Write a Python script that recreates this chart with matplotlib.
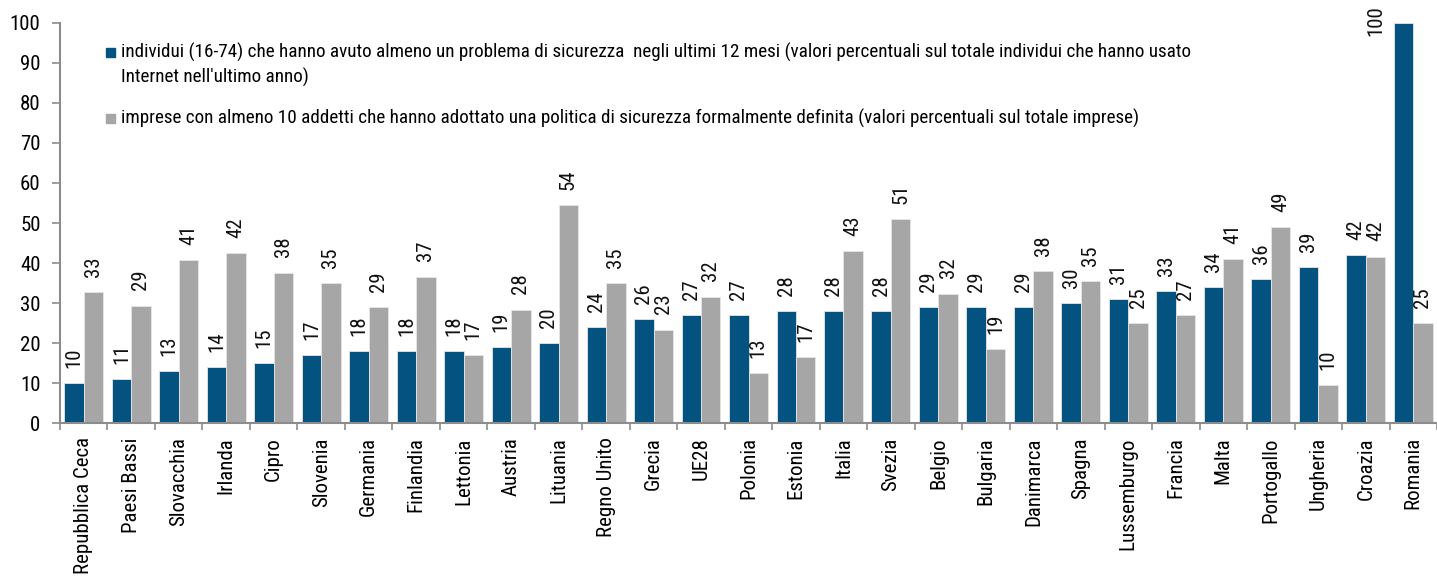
import numpy as np
import matplotlib
matplotlib.use('Agg')
import matplotlib.pyplot as plt
from matplotlib.patches import Rectangle

plt.rcParams['font.family'] = ['Roboto Condensed', 'Liberation Sans', 'DejaVu Sans']

paesi = ['Repubblica Ceca', 'Paesi Bassi', 'Slovacchia', 'Irlanda', 'Cipro', 'Slovenia',
         'Germania', 'Finlandia', 'Lettonia', 'Austria', 'Lituania', 'Regno Unito', 'Grecia',
         'UE28', 'Polonia', 'Estonia', 'Italia', 'Svezia', 'Belgio', 'Bulgaria', 'Danimarca',
         'Spagna', 'Lussemburgo', 'Francia', 'Malta', 'Portogallo', 'Ungheria', 'Croazia',
         'Romania']
individui = [10, 11, 13, 14, 15, 17, 18, 18, 18, 19, 20, 24, 26, 27, 27, 28, 28, 28, 29, 29,
             29, 30, 31, 33, 34, 36, 39, 42, 100]
imprese = [32.8, 29.4, 40.8, 42.4, 37.6, 35.0, 29.0, 36.6, 17.0, 28.4, 54.4, 35.0, 23.4, 31.6,
           12.6, 16.6, 43.0, 50.9, 32.4, 18.6, 38.0, 35.4, 25.0, 27.0, 41.0, 48.9, 9.6, 41.6, 25.0]

lab_ind = ("individui (16-74) che hanno avuto almeno un problema di sicurezza  negli ultimi 12 mesi "
           "(valori percentuali sul totale individui che hanno usato")
lab_ind2 = "Internet nell'ultimo anno)"
lab_imp = ("imprese con almeno 10 addetti che hanno adottato una politica di sicurezza formalmente "
           "definita (valori percentuali sul totale imprese)")

blu = '#03527f'
grigio = '#a6a6a6'

fig = plt.figure(figsize=(14.37, 5.88), dpi=100)
ax = fig.add_axes([60 / 1437, 1 - 423.3 / 588, 1 - 60 / 1437, 400.6 / 588])

x = np.arange(len(paesi))
w = 0.41
b1 = ax.bar(x - w / 2, individui, w, color=blu, edgecolor='#e6e6e6', linewidth=0.6)
b2 = ax.bar(x + w / 2, imprese, w, color=grigio, edgecolor='#e6e6e6', linewidth=0.6)

# etichette dei valori (quella che esce dal grafico va a sinistra della barra)
for bars in (b1, b2):
    for r in bars:
        h = r.get_height()
        xc = r.get_x() + r.get_width() / 2
        if h > 90:
            ax.annotate(f'{h:.0f}', (xc, h), xytext=(-20, 1.5), textcoords='offset points',
                        rotation=90, ha='center', va='center', fontsize=15, color='#111111')
        else:
            ax.annotate(f'{h:.0f}', (xc, h), xytext=(0, 11), textcoords='offset points',
                        rotation=90, ha='center', va='bottom', fontsize=15, color='#111111')

ax.set_xlim(-0.5, len(paesi) - 0.5)
ax.set_ylim(0, 100)
ax.set_yticks(range(0, 101, 10))
ax.set_xticks(x)
ax.set_xticklabels(paesi, rotation=90, ha='center', va='top', fontsize=15)
ax.set_xticks(np.arange(len(paesi) + 1) - 0.5, minor=True)
ax.tick_params(axis='x', which='major', length=0, pad=10)
ax.tick_params(axis='x', which='minor', length=5, width=1.2, color='#8c8c8c', direction='out')
ax.tick_params(axis='y', length=6, width=1.2, color='#8c8c8c', direction='out', labelsize=15, pad=8)

for s in ('top', 'right'):
    ax.spines[s].set_visible(False)
for s in ('left', 'bottom'):
    ax.spines[s].set_color('#8c8c8c')
    ax.spines[s].set_linewidth(1.5)

# legenda disegnata a mano
ax.add_patch(Rectangle((0.0334, 0.9144), 0.0066, 0.0225, transform=ax.transAxes,
                       color=blu, clip_on=False))
ax.add_patch(Rectangle((0.0334, 0.7496), 0.0066, 0.0225, transform=ax.transAxes,
                       color=grigio, clip_on=False))
ax.text(0.0443, 0.925, lab_ind, transform=ax.transAxes, va='center', ha='left', fontsize=13.8)
ax.text(0.0443, 0.8637, lab_ind2, transform=ax.transAxes, va='center', ha='left', fontsize=13.8)
ax.text(0.0443, 0.762, lab_imp, transform=ax.transAxes, va='center', ha='left', fontsize=13.8)

plt.savefig('out.png', dpi=100)
